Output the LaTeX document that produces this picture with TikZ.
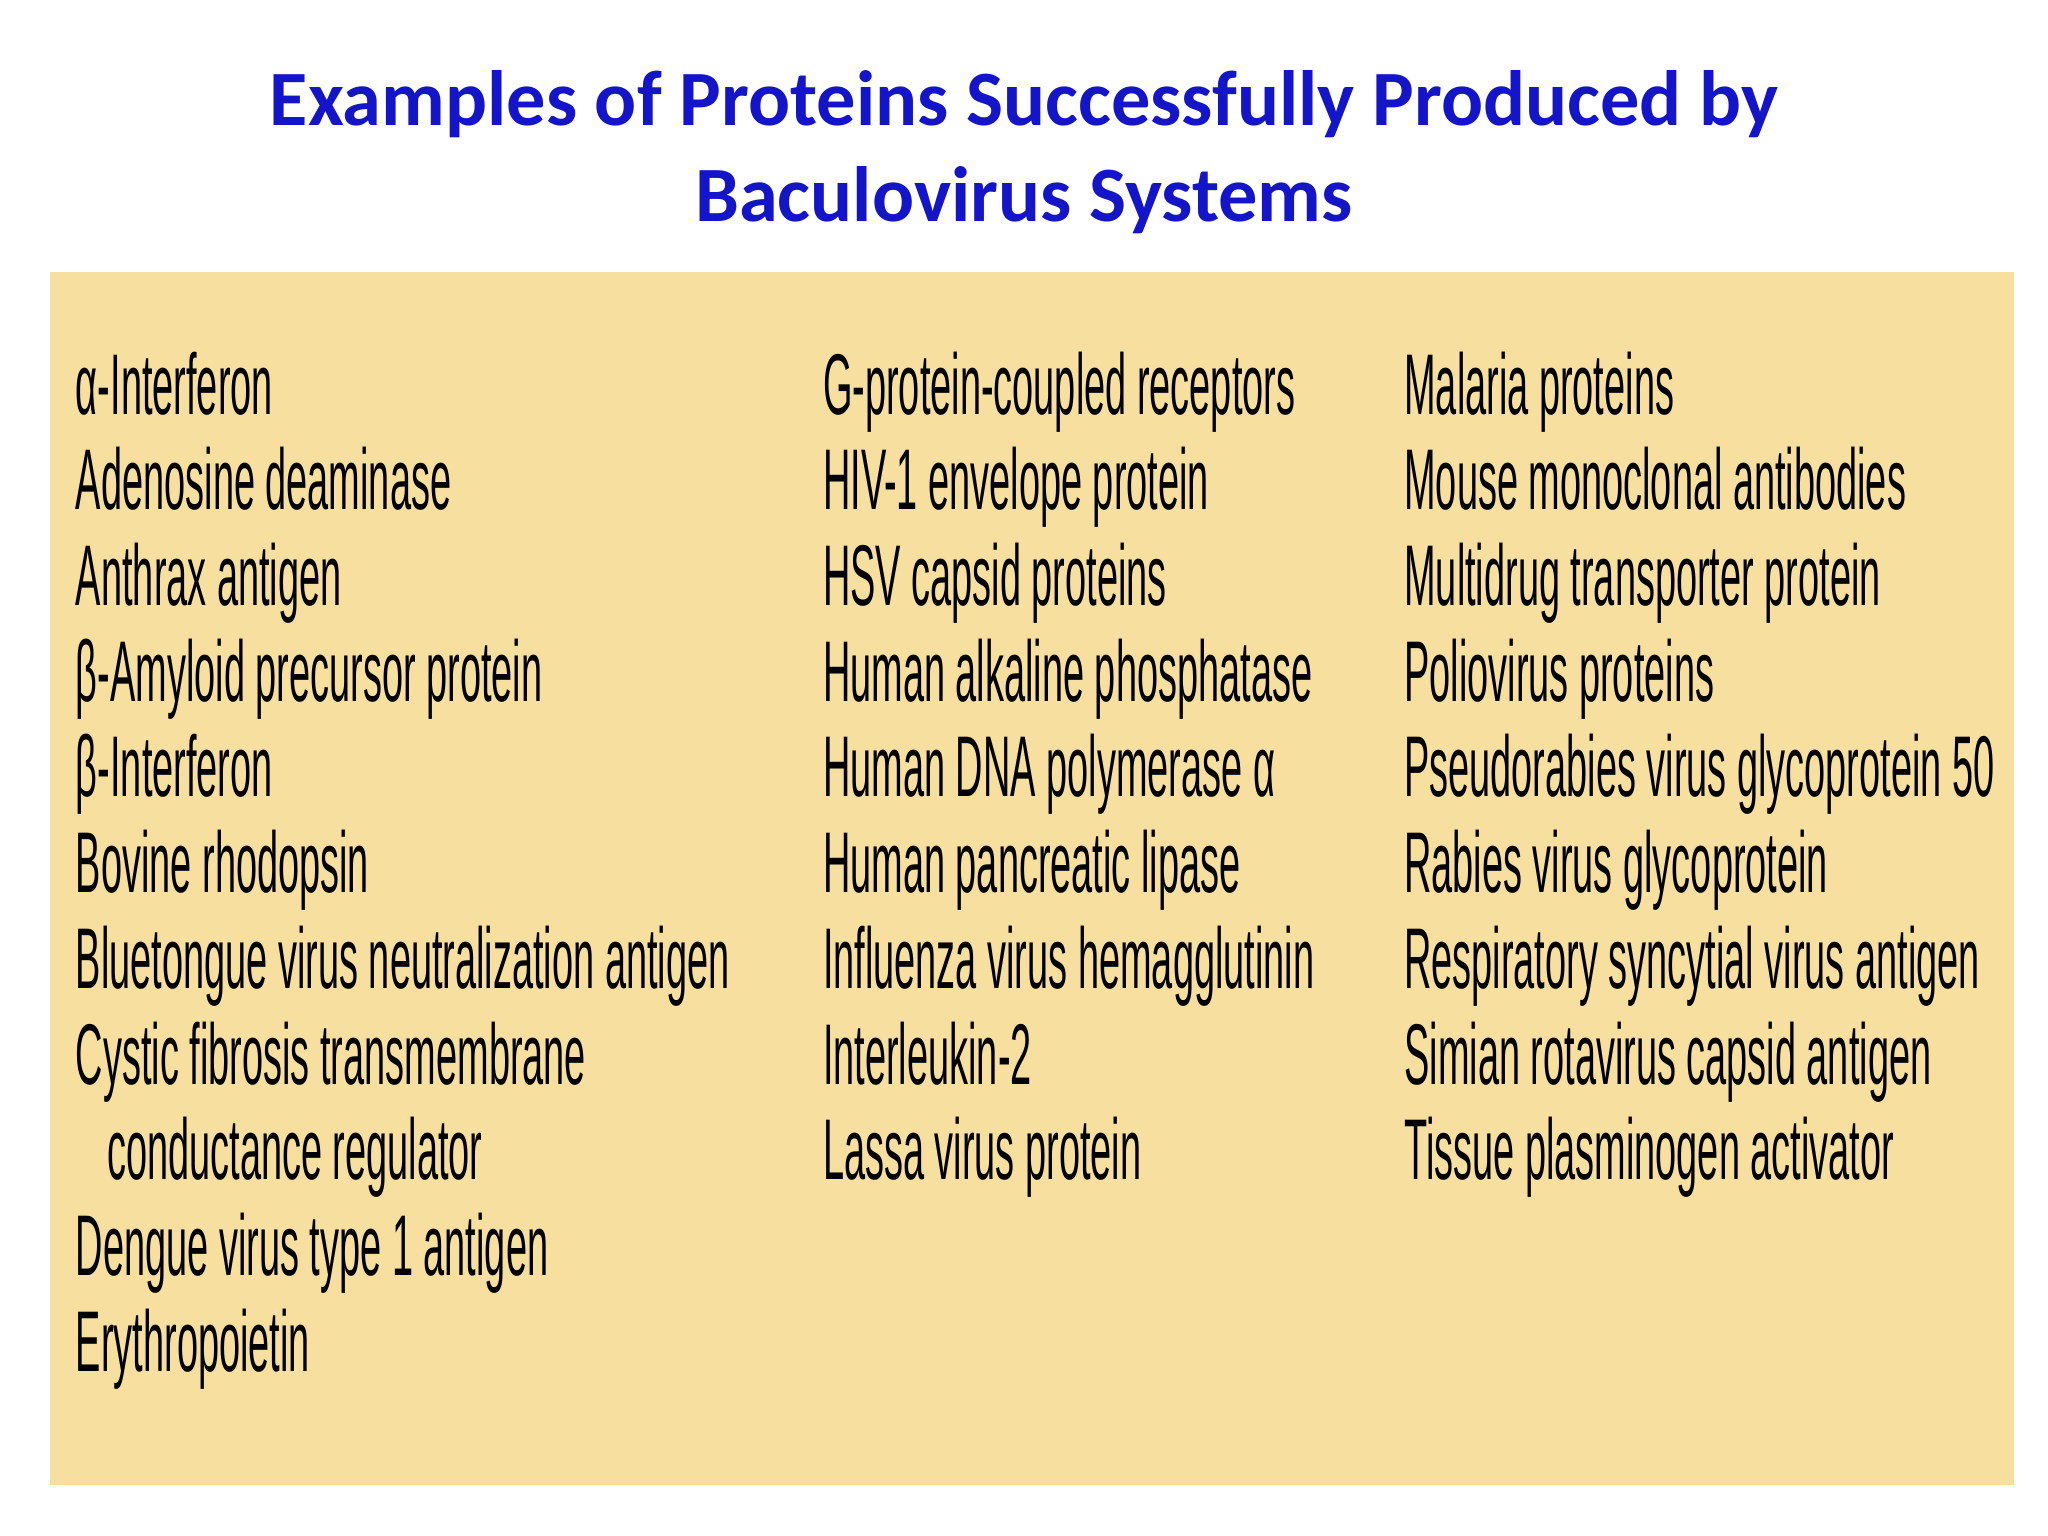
\documentclass[tikz,border=0pt]{standalone}
\usepackage{fontspec}
\setmainfont{Liberation Sans}
\newfontfamily\titlefont{Carlito}
\definecolor{bg}{HTML}{F7DFA0}
\definecolor{tblue}{HTML}{1414C8}
\begin{document}
\begin{tikzpicture}[x=0.5pt,y=-0.5pt,
  item/.style={anchor=west,inner sep=0pt,text height=0.72em,text depth=0.22em,xscale=0.44,transform shape,font=\fontsize{33}{33}\selectfont},
  ttl/.style={inner sep=0pt,text=tblue,font=\titlefont\bfseries\fontsize{30}{30}\selectfont}]
\useasboundingbox (0,0) rectangle (1568,1176);
\fill[white] (0,0) rectangle (1568,1176);
\fill[bg] (38,208) rectangle (1542,1137);
\node[ttl] (t1) at (784,80) {Examples of Proteins Successfully Produced by};
\node[ttl] (t2) at (784,153) {Baculovirus Systems};
\foreach \t [count=\i] in {α-Interferon,Adenosine deaminase,Anthrax antigen,β-Amyloid precursor protein,β-Interferon,Bovine rhodopsin,Bluetongue virus neutralization antigen,Cystic fibrosis transmembrane,,Dengue virus type 1 antigen,Erythropoietin}
  \node[item] (a\i) at (58,{312+(\i-1)*73.3}) {\t};
\node[item] (a9b) at (82,{312+8*73.3}) {conductance regulator};
\foreach \t [count=\i] in {G-protein-coupled receptors,HIV-1 envelope protein,HSV capsid proteins,Human alkaline phosphatase,Human DNA polymerase α,Human pancreatic lipase,Influenza virus hemagglutinin,Interleukin-2,Lassa virus protein}
  \node[item] (b\i) at (630,{312+(\i-1)*73.3}) {\t};
\foreach \t [count=\i] in {Malaria proteins,Mouse monoclonal antibodies,Multidrug transporter protein,Poliovirus proteins,Pseudorabies virus glycoprotein 50,Rabies virus glycoprotein,Respiratory syncytial virus antigen,Simian rotavirus capsid antigen,Tissue plasminogen activator}
  \node[item] (c\i) at (1075,{312+(\i-1)*73.3}) {\t};
\end{tikzpicture}
\end{document}
